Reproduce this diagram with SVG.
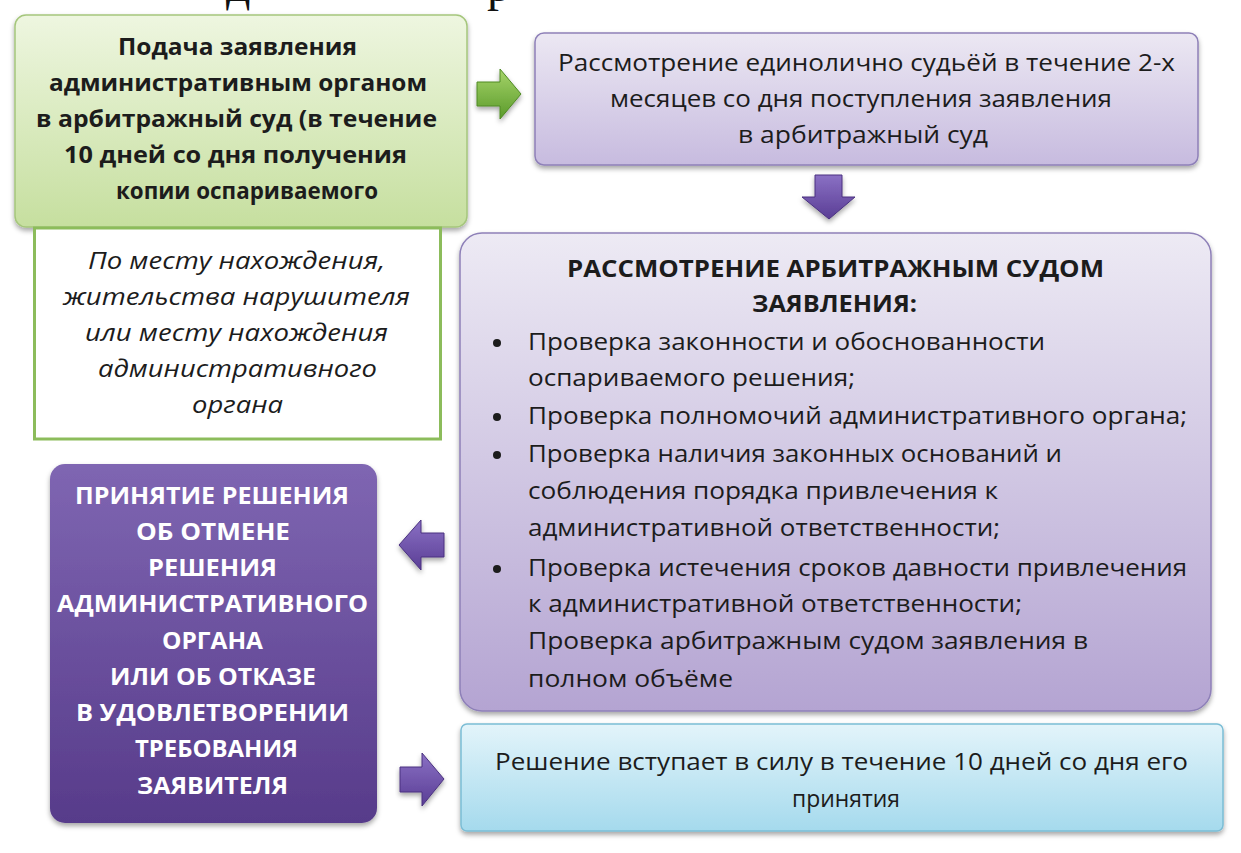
<svg xmlns="http://www.w3.org/2000/svg" width="1241" height="853" viewBox="0 0 1241 853">
<defs>
  <linearGradient id="gGreen" x1="0" y1="0" x2="0" y2="1">
    <stop offset="0" stop-color="#eef6e0"/>
    <stop offset="1" stop-color="#c6df9f"/>
  </linearGradient>
  <linearGradient id="gLav" x1="0" y1="0" x2="0" y2="1">
    <stop offset="0" stop-color="#ece8f3"/>
    <stop offset="1" stop-color="#c7bbdf"/>
  </linearGradient>
  <linearGradient id="gLav2" x1="0" y1="0" x2="0" y2="1">
    <stop offset="0" stop-color="#edeaf4"/>
    <stop offset="1" stop-color="#b4a4d2"/>
  </linearGradient>
  <linearGradient id="gDark" x1="0" y1="0" x2="0" y2="1">
    <stop offset="0" stop-color="#7f66b2"/>
    <stop offset="1" stop-color="#573b8a"/>
  </linearGradient>
  <linearGradient id="gBlue" x1="0" y1="0" x2="0" y2="1">
    <stop offset="0" stop-color="#e3f4fa"/>
    <stop offset="1" stop-color="#a5daed"/>
  </linearGradient>
  <linearGradient id="gArrG" x1="0" y1="0" x2="0" y2="1">
    <stop offset="0" stop-color="#a6d46a"/>
    <stop offset="1" stop-color="#5a9a2a"/>
  </linearGradient>
  <linearGradient id="gArrP" x1="0" y1="0" x2="0" y2="1">
    <stop offset="0" stop-color="#8a70c4"/>
    <stop offset="1" stop-color="#5a3e95"/>
  </linearGradient>
  <filter id="sh" x="-10%" y="-10%" width="120%" height="130%">
    <feDropShadow dx="0" dy="3" stdDeviation="2.5" flood-color="#000" flood-opacity="0.35"/>
  </filter>
</defs>
<style>
  .t { font-family: "Open Sans", "Liberation Sans", "DejaVu Sans", sans-serif; font-size: 23px; fill: #1c1c1c; }
  .b { font-weight: 700; }
  .i { font-style: italic; font-size: 24px; }
  .w { fill: #ffffff; }
  .frag { font-family: "Liberation Serif", "DejaVu Serif", serif; font-size: 48px; fill: #111; }
  .arrP { fill: url(#gArrP); stroke: #4a3180; stroke-width: 1; filter: url(#sh); }
  .arrG { fill: url(#gArrG); stroke: #4f8a24; stroke-width: 1; filter: url(#sh); }
  .bullet { fill: #1c1c1c; }
</style>

<rect x="0" y="0" width="1241" height="853" fill="#ffffff"/>

<text class="frag" y="1"><tspan x="226">д</tspan><tspan x="487">р</tspan></text>

<g id="node-podacha">
  <rect x="15" y="15" width="452" height="212" rx="11" fill="url(#gGreen)" stroke="#a5c67c" stroke-width="1.5" filter="url(#sh)"/>
  <text class="t b" x="118" y="55" textLength="239" lengthAdjust="spacingAndGlyphs">Подача заявления</text>
  <text class="t b" x="49" y="91" textLength="378" lengthAdjust="spacingAndGlyphs">административным органом</text>
  <text class="t b" x="36" y="127" textLength="401" lengthAdjust="spacingAndGlyphs">в арбитражный суд (в течение</text>
  <text class="t b" x="64" y="163" textLength="343" lengthAdjust="spacingAndGlyphs">10 дней со дня получения</text>
  <text class="t b" x="116" y="199" textLength="262" lengthAdjust="spacingAndGlyphs">копии оспариваемого</text>
</g>

<g id="node-mesto">
  <rect x="34.5" y="228" width="406" height="211" fill="#ffffff" stroke="#8cbc5b" stroke-width="3"/>
  <text class="t i" x="88" y="269" textLength="297" lengthAdjust="spacingAndGlyphs">По месту нахождения,</text>
  <text class="t i" x="63" y="305" textLength="347" lengthAdjust="spacingAndGlyphs">жительства нарушителя</text>
  <text class="t i" x="85" y="341" textLength="303" lengthAdjust="spacingAndGlyphs">или месту нахождения</text>
  <text class="t i" x="98" y="377" textLength="279" lengthAdjust="spacingAndGlyphs">административного</text>
  <text class="t i" x="192" y="413" textLength="91" lengthAdjust="spacingAndGlyphs">органа</text>
</g>

<g id="node-edinolichno">
  <rect x="535" y="33" width="663" height="132" rx="9" fill="url(#gLav)" stroke="#8e80b8" stroke-width="1.5" filter="url(#sh)"/>
  <text class="t" x="558" y="71" textLength="617" lengthAdjust="spacingAndGlyphs">Рассмотрение единолично судьёй в течение 2-х</text>
  <text class="t" x="610" y="107" textLength="502" lengthAdjust="spacingAndGlyphs">месяцев со дня поступления заявления</text>
  <text class="t" x="738" y="143" textLength="250" lengthAdjust="spacingAndGlyphs">в арбитражный суд</text>
</g>

<g id="node-rassmotrenie">
  <rect x="460" y="233" width="751" height="478" rx="22" fill="url(#gLav2)" stroke="#8e80b8" stroke-width="1.5" filter="url(#sh)"/>
  <text class="t b" x="567" y="277" textLength="537" lengthAdjust="spacingAndGlyphs">РАССМОТРЕНИЕ АРБИТРАЖНЫМ СУДОМ</text>
  <text class="t b" x="752" y="312" textLength="165" lengthAdjust="spacingAndGlyphs">ЗАЯВЛЕНИЯ:</text>
  <circle class="bullet" cx="497" cy="343" r="4"/>
  <text class="t" x="528" y="350" textLength="517" lengthAdjust="spacingAndGlyphs">Проверка законности и обоснованности</text>
  <text class="t" x="528" y="386" textLength="327" lengthAdjust="spacingAndGlyphs">оспариваемого решения;</text>
  <circle class="bullet" cx="497" cy="417" r="4"/>
  <text class="t" x="528" y="424" textLength="659" lengthAdjust="spacingAndGlyphs">Проверка полномочий административного органа;</text>
  <circle class="bullet" cx="497" cy="455" r="4"/>
  <text class="t" x="528" y="462" textLength="534" lengthAdjust="spacingAndGlyphs">Проверка наличия законных оснований и</text>
  <text class="t" x="528" y="499" textLength="470" lengthAdjust="spacingAndGlyphs">соблюдения порядка привлечения к</text>
  <text class="t" x="528" y="536" textLength="472" lengthAdjust="spacingAndGlyphs">административной ответственности;</text>
  <circle class="bullet" cx="497" cy="569" r="4"/>
  <text class="t" x="528" y="576" textLength="659" lengthAdjust="spacingAndGlyphs">Проверка истечения сроков давности привлечения</text>
  <text class="t" x="528" y="612" textLength="494" lengthAdjust="spacingAndGlyphs">к административной ответственности;</text>
  <text class="t" x="528" y="649" textLength="560" lengthAdjust="spacingAndGlyphs">Проверка арбитражным судом заявления в</text>
  <text class="t" x="528" y="687" textLength="205" lengthAdjust="spacingAndGlyphs">полном объёме</text>
</g>

<g id="node-prinyatie">
  <rect x="50" y="464" width="327" height="359" rx="15" fill="url(#gDark)" filter="url(#sh)"/>
  <text class="t b w" x="75" y="504" textLength="274" lengthAdjust="spacingAndGlyphs">ПРИНЯТИЕ РЕШЕНИЯ</text>
  <text class="t b w" x="136" y="540" textLength="154" lengthAdjust="spacingAndGlyphs">ОБ ОТМЕНЕ</text>
  <text class="t b w" x="148" y="576" textLength="129" lengthAdjust="spacingAndGlyphs">РЕШЕНИЯ</text>
  <text class="t b w" x="57" y="612" textLength="311" lengthAdjust="spacingAndGlyphs">АДМИНИСТРАТИВНОГО</text>
  <text class="t b w" x="162" y="649" textLength="101" lengthAdjust="spacingAndGlyphs">ОРГАНА</text>
  <text class="t b w" x="110" y="685" textLength="206" lengthAdjust="spacingAndGlyphs">ИЛИ ОБ ОТКАЗЕ</text>
  <text class="t b w" x="76" y="721" textLength="273" lengthAdjust="spacingAndGlyphs">В УДОВЛЕТВОРЕНИИ</text>
  <text class="t b w" x="135" y="757" textLength="163" lengthAdjust="spacingAndGlyphs">ТРЕБОВАНИЯ</text>
  <text class="t b w" x="137" y="794" textLength="151" lengthAdjust="spacingAndGlyphs">ЗАЯВИТЕЛЯ</text>
</g>

<g id="node-reshenie">
  <rect x="461" y="724" width="762" height="107" rx="6" fill="url(#gBlue)" stroke="#7bbdd5" stroke-width="1.5" filter="url(#sh)"/>
  <text class="t" x="495" y="770" textLength="693" lengthAdjust="spacingAndGlyphs">Решение вступает в силу в течение 10 дней со дня его</text>
  <text class="t" x="792" y="807" textLength="108" lengthAdjust="spacingAndGlyphs">принятия</text>
</g>

<g id="connectors">
  <polygon class="arrG" points="477,82 500,82 500,69 521,94 500,119 500,106 477,106"/>
  <polygon class="arrP" points="815,175 842,175 842,197 855,197 829,219 802,197 815,197"/>
  <polygon class="arrP" points="444,533 421,533 421,520 399,545 421,570 421,557 444,557"/>
  <polygon class="arrP" points="400,767 422,767 422,753 444,779 422,806 422,792 400,792"/>
</g>
</svg>
